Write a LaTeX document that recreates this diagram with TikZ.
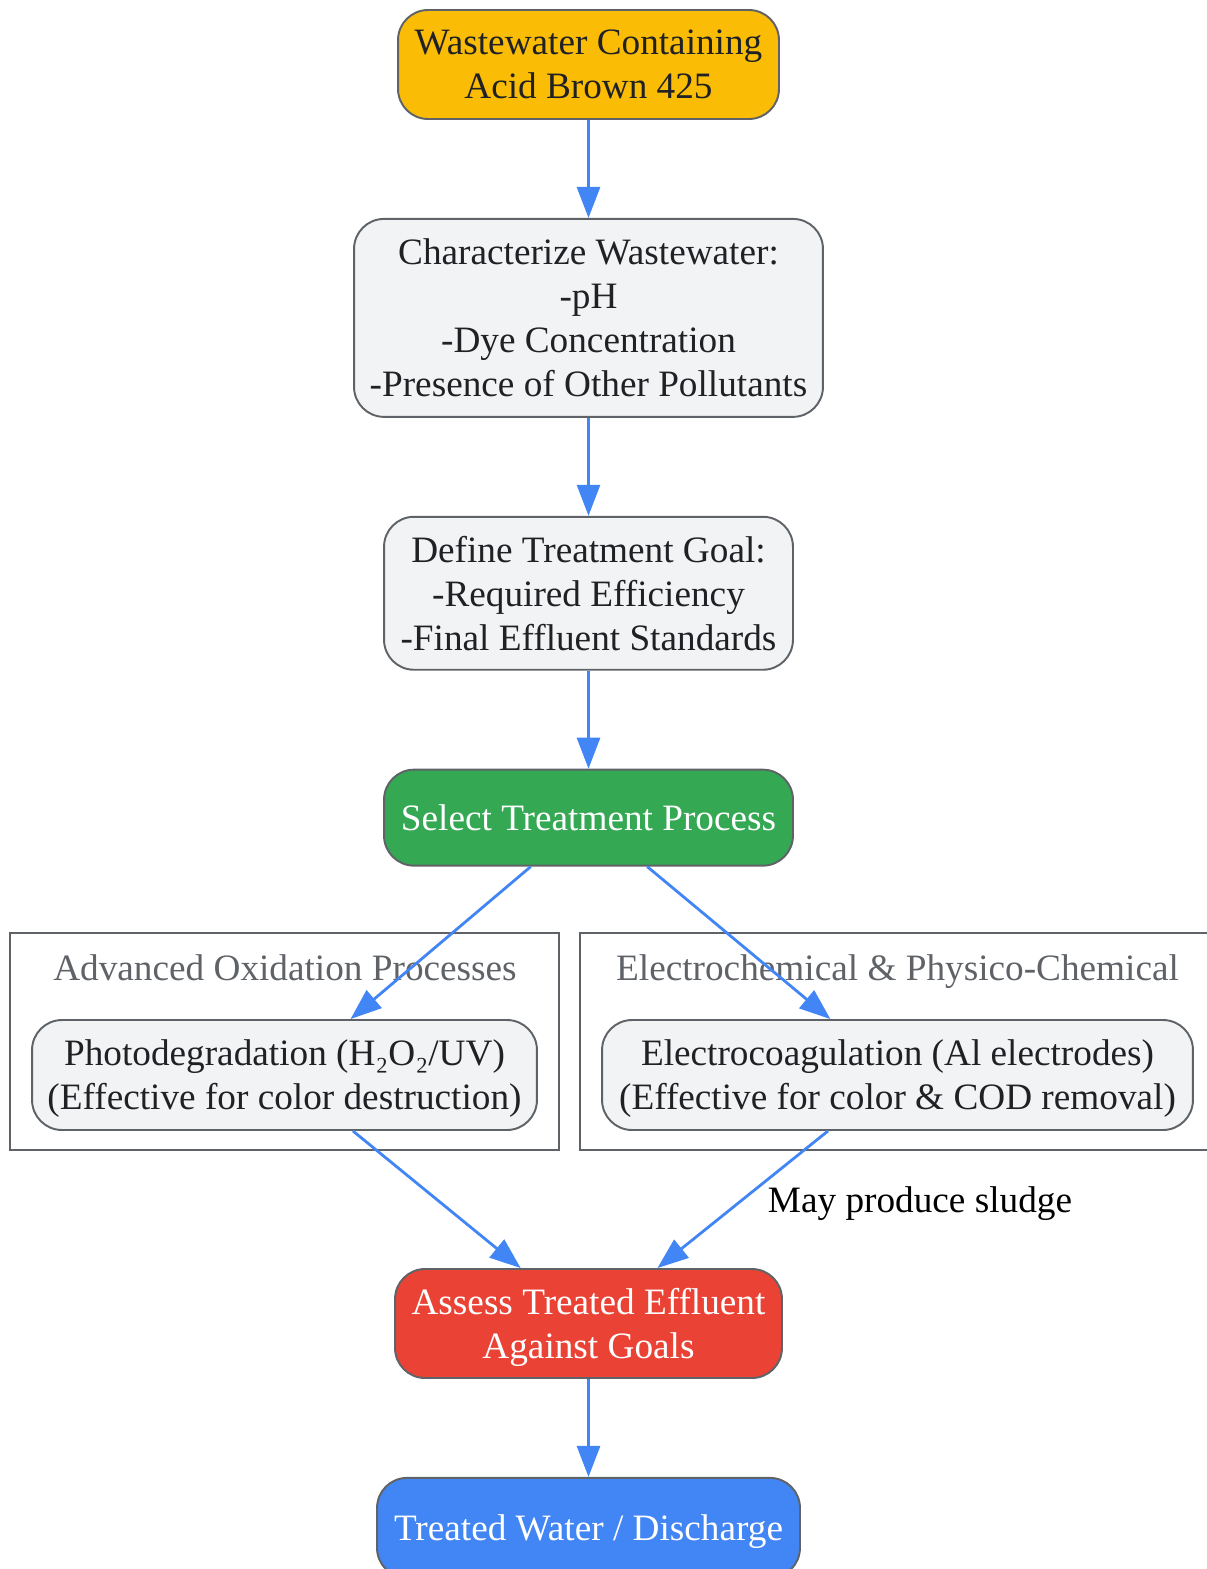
\documentclass[tikz,border=0pt]{standalone}
\usepackage{fontspec}
\setmainfont{Liberation Serif}
\usetikzlibrary{positioning,arrows.meta}
\definecolor{gyellow}{HTML}{FBBC05}
\definecolor{ggreen}{HTML}{34A853}
\definecolor{gred}{HTML}{EA4335}
\definecolor{gblue}{HTML}{4285F4}
\definecolor{glight}{HTML}{F1F3F4}
\definecolor{gborder}{HTML}{5F6368}
\definecolor{gtext}{HTML}{202124}
\begin{document}
\begin{tikzpicture}[x=0.02cm, y=-0.02cm, node distance=1.96cm,
    every node/.style = {font=\fontsize{21.2}{25}\selectfont, text depth=0pt},
    box/.style = {draw=gborder, line width=1.1pt, rounded corners=0.6cm, align=center,
                  inner sep=0pt, text=gtext, fill=glight},
    title/.style = {text=gborder},
    group/.style = {draw=gborder, line width=1.1pt, fill=white, inner sep=0pt},
    flow/.style = {-{Triangle[length=0.62cm,width=0.46cm]}, draw=gblue, line width=1.6pt}]
    \useasboundingbox (0,0) rectangle (1207,1569);
    \clip (0,0) rectangle (1207,1569);

    % Catena principale
    \node[box, fill=gyellow, minimum width=7.62cm, minimum height=2.18cm] (input) at (588.5,64.5)
        {Wastewater Containing\\Acid Brown 425};
    \node[box, minimum width=9.38cm, minimum height=3.96cm] (charact) [below=of input]
        {Characterize Wastewater:\\-pH\\-Dye Concentration\\-Presence of Other Pollutants};
    \node[box, minimum width=8.18cm, minimum height=3.06cm] (goal) [below=of charact]
        {Define Treatment Goal:\\-Required Efficiency\\-Final Effluent Standards};
    \node[box, fill=ggreen, text=white, minimum width=8.18cm, minimum height=1.92cm] (select) [below=of goal]
        {Select Treatment Process};

    % Gruppi
    \node[group, minimum width=10.98cm, minimum height=4.34cm] (aop) at (284.5,1041.5) {};
    \node[title] (aoptitle) at (285,968) {Advanced Oxidation Processes};
    \node[group, minimum width=12.7cm, minimum height=4.34cm] (epc) at (897.5,1041.5) {};
    \node[title] (epctitle) at (897.5,968) {Electrochemical \& Physico-Chemical};

    \node[box, minimum width=10.1cm, minimum height=2.2cm] (photo) at (284.5,1075)
        {Photodegradation (H₂O₂/UV)\\(Effective for color destruction)};
    \node[box, minimum width=11.82cm, minimum height=2.2cm] (electro) at (897.5,1075)
        {Electrocoagulation (Al electrodes)\\(Effective for color \& COD removal)};

    % Valutazione e scarico
    \node[box, fill=gred, text=white, minimum width=7.74cm, minimum height=2.18cm] (assess) at (588.5,1323.5)
        {Assess Treated Effluent\\Against Goals};
    \node[box, fill=gblue, text=white, minimum width=8.46cm, minimum height=2.0cm] (discharge) [below=of assess]
        {Treated Water / Discharge};

    % Archi
    \draw[flow] (input) -- (charact);
    \draw[flow] (charact) -- (goal);
    \draw[flow] (goal) -- (select);
    \draw[flow] (select) -- (photo);
    \draw[flow] (select) -- (electro);
    \draw[flow] (photo) -- (assess);
    \draw[flow] (electro) -- (assess) node[midway, right=0.36cm, text=black] {May produce sludge};
    \draw[flow] (assess) -- (discharge);
\end{tikzpicture}
\end{document}
